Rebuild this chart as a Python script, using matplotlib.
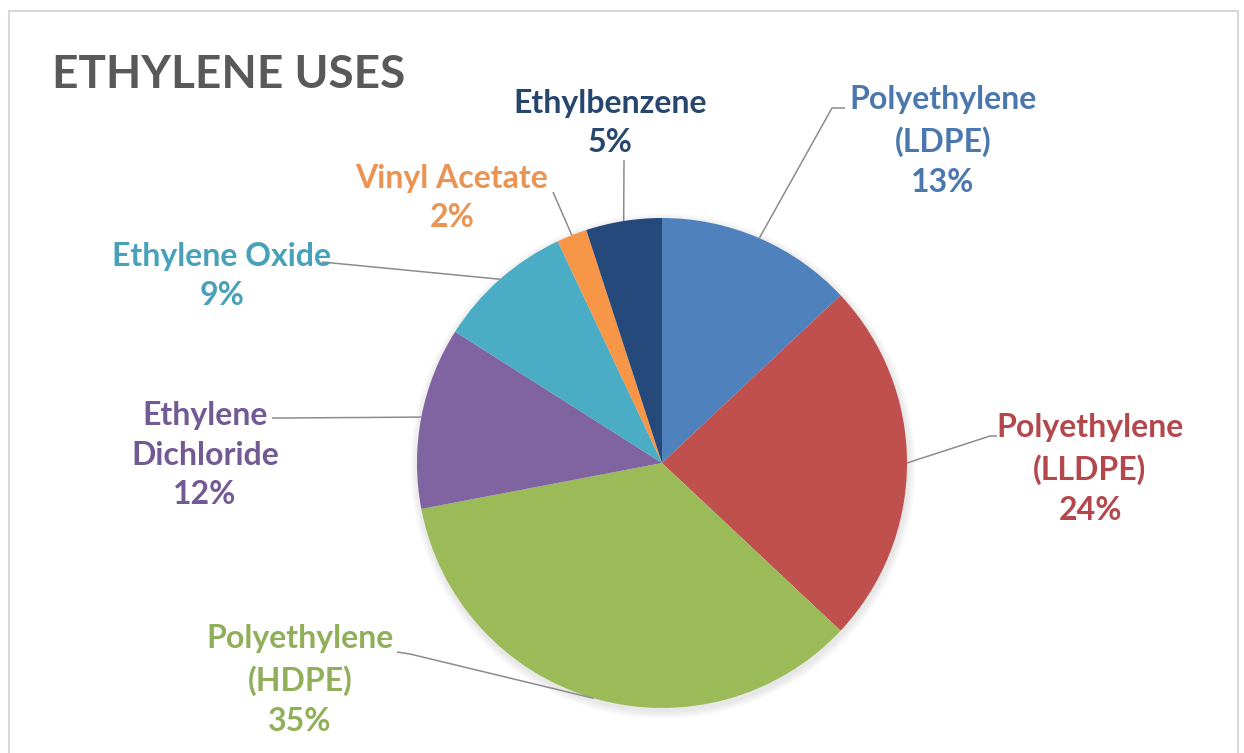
"""
Ethylene end uses, pie chart with outside data labels and leader lines.
"""

import numpy as np
import matplotlib.pyplot as plt
from matplotlib.patches import Rectangle, Circle

plt.rcParams["font.family"] = ["Lato", "DejaVu Sans"]

# ---------------------------------------------------------------------------
# Data
# ---------------------------------------------------------------------------
uses = ["Polyethylene\n(LDPE)", "Polyethylene\n(LLDPE)", "Polyethylene\n(HDPE)",
        "Ethylene\nDichloride", "Ethylene Oxide", "Vinyl Acetate", "Ethylbenzene"]
shares = [13, 24, 35, 12, 9, 2, 5]

slice_colors = ["#4F81BD", "#C0504D", "#9BBB59", "#8064A2", "#4BACC6", "#F79646", "#24497A"]
label_colors = ["#4A78AE", "#B3474B", "#91AF58", "#725A94", "#47A2B9", "#EA9352", "#26466E"]

# label centres and where the leader line meets the label (pixels, y down)
label_pos = [(943, 141), (1090, 469), (300, 680), (205, 455), (222, 276), (452, 198), (610, 123)]
leader_anchor = [(845, 108), (997, 436), (397, 652), (272, 418), (322, 262), (553, 192), (624, 160)]
leader_knee = [(832, 108), (990, 436), (410, 654), (285, 418), (322, 262), (553, 192), (624, 160)]

# ---------------------------------------------------------------------------
# Figure in pixel units
# ---------------------------------------------------------------------------
W, H = 1244, 753
fig = plt.figure(figsize=(W / 100, H / 100), dpi=100)
ax = fig.add_axes([0, 0, 1, 1])

cx, cy, r = 662, H - 463, 245

# soft shadow under the pie
for k in range(8):
    ax.add_patch(Circle((cx + 1, cy - 3), r + 8 - k, color="#000000", alpha=0.012, lw=0, zorder=1))

wedges, _ = ax.pie(shares, colors=slice_colors, startangle=90, counterclock=False,
                   center=(cx, cy), radius=r, frame=True,
                   wedgeprops=dict(linewidth=0))
for w in wedges:
    w.set_zorder(2)
ax.set_xlim(0, W)
ax.set_ylim(0, H)
ax.set_aspect("equal")
ax.axis("off")

# leader lines from slice midpoint on the rim to the label
for w, knee, anchor in zip(wedges, leader_knee, leader_anchor):
    mid = np.deg2rad((w.theta1 + w.theta2) / 2)
    ex, ey = cx + r * np.cos(mid), cy + r * np.sin(mid)
    xs = [ex, knee[0], anchor[0]]
    ys = [ey, H - knee[1], H - anchor[1]]
    ax.plot(xs, ys, color="#8C8C8C", lw=1.1, zorder=3, solid_capstyle="butt")

# data labels: category and percentage
for name, val, (lx, ly), col in zip(uses, shares, label_pos, label_colors):
    ax.text(lx, H - ly, f"{name}\n{val}%", ha="center", va="center",
            fontsize=23, fontweight="bold", color=col, linespacing=1.45, zorder=4)

ax.text(52, H - 75, "ETHYLENE USES", ha="left", va="center",
        fontsize=33, fontweight="bold", color="#595959")

# chart area border
ax.add_patch(Rectangle((9, -10), 1229, H - 11 + 10, fill=False,
                       edgecolor="#D9D9D9", lw=1.5, zorder=0))

fig.savefig("out.png", dpi=100)
